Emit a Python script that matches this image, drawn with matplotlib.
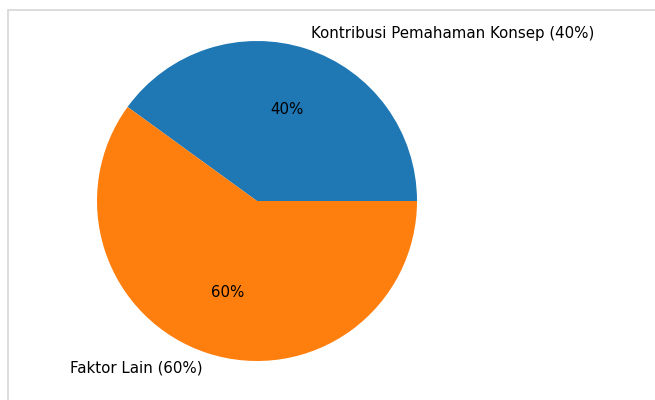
import matplotlib
matplotlib.use("Agg")
import matplotlib.pyplot as plt
from matplotlib.patches import Rectangle

labels = ["Kontribusi Pemahaman Konsep (40%)", "Faktor Lain (60%)"]
sizes = [40, 60]
colors = ["#1f77b4", "#ff7f0e"]

fig = plt.figure(figsize=(6.55, 4), dpi=100)
# pie centre ~ (257, 201) px, radius ~160 px
r = 160
ax = fig.add_axes([(257 - 1.25 * r) / 655, (400 - 201 - 1.25 * r) / 400,
                   2.5 * r / 655, 2.5 * r / 400])
ax.pie(sizes, labels=labels, colors=colors, autopct='%1.0f%%',
       textprops={'fontsize': 10.8})
ax.set_xlim(-1.25, 1.25)
ax.set_ylim(-1.25, 1.25)
ax.set_aspect('equal')

# light screenshot border
fig.add_artist(Rectangle((8 / 655, -0.1), 1.2, 1 - 10 / 400 + 0.1,
                         transform=fig.transFigure, fill=False,
                         edgecolor="#d6d6d6", linewidth=1.2))

fig.savefig("out.png", dpi=100)
